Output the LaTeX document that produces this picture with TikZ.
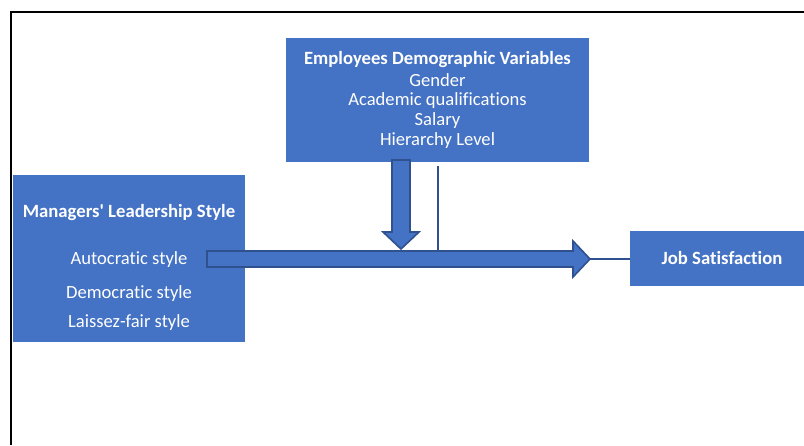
\documentclass[tikz,border=0pt]{standalone}
\usepackage{fontspec}
\setmainfont{Carlito}[Ligatures={TeXOff,CommonOff}]
\definecolor{boxblue}{HTML}{4472C4}
\definecolor{edgeblue}{HTML}{2F528F}
\begin{document}
\begin{tikzpicture}[x=1pt,y=-1pt,
  box/.style={fill=boxblue,draw=none,inner sep=0pt,outer sep=0pt},
  txt/.style={text=white,inner sep=0pt,font=\fontsize{18.6}{22}\selectfont},
  btxt/.style={text=white,inner sep=0pt,font=\fontsize{18.7}{22}\selectfont\bfseries},
  blockarrow/.style={fill=boxblue,draw=edgeblue,line width=1.6pt,line join=miter},
  thinline/.style={draw=edgeblue,line width=1.6pt}]
\useasboundingbox (0,0) rectangle (804,445);
% frame
\draw[black,line width=1.8pt] (11,445) -- (11,12) -- (806,12);
% boxes
\fill[box] (286,38) rectangle (589,162);
\fill[box] (13,175) rectangle (245,342);
\fill[box] (630,231) rectangle (806,286);
% texts
\node[btxt] (t1) at (437.5,60) {Employees Demographic Variables};
\node[txt] (t2) at (437.5,80.5) {Gender};
\node[txt] (t3) at (437.5,100.5) {Academic qualifications};
\node[txt] (t4) at (437.5,120.5) {Salary};
\node[txt] (t5) at (437.5,141) {Hierarchy Level};
\node[btxt] (l1) at (129,213) {Managers' Leadership Style};
\node[txt] (l2) at (129,259.5) {Autocratic style};
\node[txt] (l3) at (129,293.5) {Democratic style};
\node[txt] (l4) at (129,322.5) {Laissez-fair style};
\node[btxt] (js) at (722,258) {Job Satisfaction};
% horizontal block arrow
\draw[blockarrow] (207,251) -- (573,251) -- (573,241) -- (590,259) -- (573,277) -- (573,267) -- (207,267) -- cycle;
\coordinate (tip) at (590,259);
\coordinate (jsl) at (630,259);
\draw[thinline] (tip) -- (jsl);
% down block arrow
\draw[blockarrow] (392,160) -- (410,160) -- (410,232) -- (419,232) -- (401,249) -- (383,232) -- (392,232) -- cycle;
% thin vertical line
\coordinate (va) at (438,166);
\coordinate (vb) at (438,250);
\draw[thinline,line width=1.5pt] (va) -- (vb);
\end{tikzpicture}
\end{document}
